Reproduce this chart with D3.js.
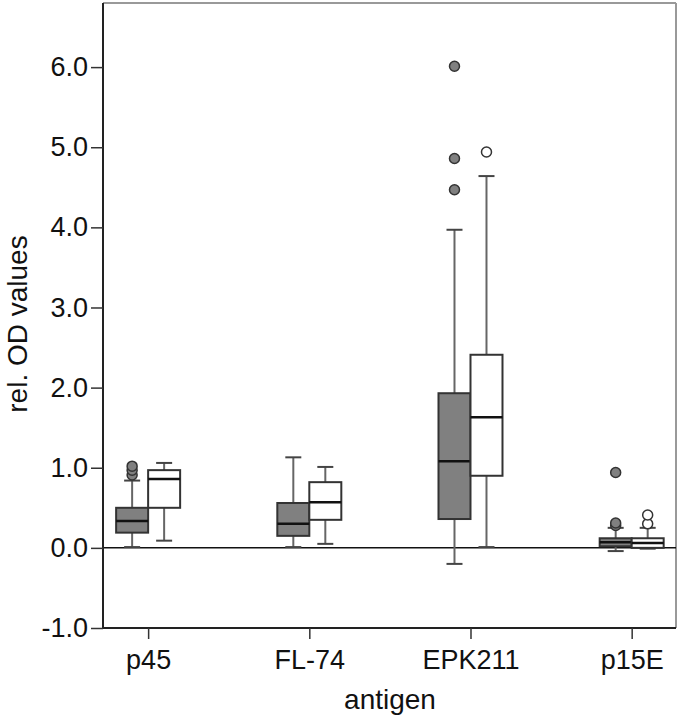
<!DOCTYPE html>
<html><head><meta charset="utf-8">
<script src="https://cdn.jsdelivr.net/npm/d3@7"></script>
<style>body{margin:0;background:#fff}svg{display:block}text{font-family:"Liberation Sans",Arial,sans-serif;fill:#111}</style>
</head><body>
<script>
const categories = ["p45", "FL-74", "EPK211", "p15E"];
const yTicks = [-1, 0, 1, 2, 3, 4, 5, 6];
// group 1 (gray)
const grayLow = [0.01, 0.01, -0.20, -0.04];
const grayQ1 = [0.19, 0.15, 0.36, 0.02];
const grayMed = [0.335, 0.30, 1.08, 0.07];
const grayQ3 = [0.50, 0.56, 1.93, 0.12];
const grayHigh = [0.84, 1.13, 3.97, 0.25];
const grayOutliers = [[0.91, 0.97, 1.02], [], [4.47, 4.86, 6.01], [0.28, 0.31, 0.94]];
// group 2 (white)
const whiteLow = [0.09, 0.05, 0.01, -0.01];
const whiteQ1 = [0.50, 0.35, 0.90, 0.0];
const whiteMed = [0.86, 0.57, 1.63, 0.06];
const whiteQ3 = [0.97, 0.82, 2.41, 0.12];
const whiteHigh = [1.06, 1.01, 4.64, 0.25];
const whiteOutliers = [[], [], [4.94], [0.30, 0.41]];

const W = 680, H = 721;
const L = 103, R = 676, T = 3, B = 628;
const svg = d3.select("body").append("svg").attr("width", W).attr("height", H);

const x = d3.scaleLinear().domain([0.72, 4.275]).range([L, R]);
const y = d3.scaleLinear().domain([-1, 6.8]).range([B, T]);
const boxW = 32, capW = 16;

const groups = [
  {low: grayLow, q1: grayQ1, med: grayMed, q3: grayQ3, high: grayHigh, out: grayOutliers, off: -16, fill: "#808080"},
  {low: whiteLow, q1: whiteQ1, med: whiteMed, q3: whiteQ3, high: whiteHigh, out: whiteOutliers, off: 16, fill: "#ffffff"}
];

// frame top/right
svg.append("line").attr("x1", L).attr("x2", R).attr("y1", T).attr("y2", T).attr("stroke", "#999").attr("stroke-width", 2);
svg.append("line").attr("x1", R).attr("x2", R).attr("y1", T).attr("y2", B).attr("stroke", "#999").attr("stroke-width", 2);

// zero line
svg.append("line").attr("x1", L).attr("x2", R).attr("y1", y(0)).attr("y2", y(0)).attr("stroke", "#111").attr("stroke-width", 1.5);

groups.forEach(g => {
  const gg = svg.append("g");
  categories.forEach((c, i) => {
    const cx = x(i + 1) + g.off;
    gg.append("line").attr("x1", cx).attr("x2", cx).attr("y1", y(g.q3[i])).attr("y2", y(g.high[i])).attr("stroke", "#666").attr("stroke-width", 2);
    gg.append("line").attr("x1", cx).attr("x2", cx).attr("y1", y(g.q1[i])).attr("y2", y(g.low[i])).attr("stroke", "#666").attr("stroke-width", 2);
    [g.high[i], g.low[i]].forEach(v => {
      gg.append("line").attr("x1", cx - capW / 2).attr("x2", cx + capW / 2).attr("y1", y(v)).attr("y2", y(v)).attr("stroke", "#444").attr("stroke-width", 2);
    });
    gg.append("rect").attr("x", cx - boxW / 2).attr("width", boxW)
      .attr("y", y(g.q3[i])).attr("height", Math.max(1, y(g.q1[i]) - y(g.q3[i])))
      .attr("fill", g.fill).attr("stroke", "#333").attr("stroke-width", 2);
    gg.append("line").attr("x1", cx - boxW / 2).attr("x2", cx + boxW / 2).attr("y1", y(g.med[i])).attr("y2", y(g.med[i])).attr("stroke", "#111").attr("stroke-width", 2.5);
    g.out[i].forEach(v => {
      gg.append("circle").attr("cx", cx).attr("cy", y(v)).attr("r", 5)
        .attr("fill", g.fill).attr("stroke", "#333").attr("stroke-width", 1.5);
    });
  });
});

// axes
const fmt = d => d3.format(".1f")(d).replace("\u2212", "-");
const yAxis = d3.axisLeft(y).tickValues(yTicks).tickFormat(fmt).tickSize(12).tickPadding(3);
const ya = svg.append("g").attr("transform", `translate(${L},0)`).call(yAxis);
ya.select(".domain").attr("d", `M0,${T}V${B}`).attr("stroke", "#222").attr("stroke-width", 2);
ya.selectAll(".tick line").attr("stroke", "#333").attr("stroke-width", 1.5);
ya.selectAll("text").style("font-size", "27px").attr("fill", "#111");

const xAxis = d3.axisBottom(x).tickValues([1, 2, 3, 4]).tickFormat(d => categories[d - 1]).tickSize(11).tickPadding(11);
const xa = svg.append("g").attr("transform", `translate(0,${B})`).call(xAxis);
xa.select(".domain").attr("d", `M${L},0H${R}`).attr("stroke", "#222").attr("stroke-width", 2);
xa.selectAll(".tick line").attr("stroke", "#333").attr("stroke-width", 1.5);
xa.selectAll("text").style("font-size", "27px").attr("fill", "#111");

svg.append("text").attr("x", 390).attr("y", 709).attr("text-anchor", "middle").style("font-size", "28px").text("antigen");
svg.append("text").attr("transform", `translate(27,324) rotate(-90)`).attr("text-anchor", "middle").style("font-size", "28px").text("rel. OD values");
</script>
</body></html>
